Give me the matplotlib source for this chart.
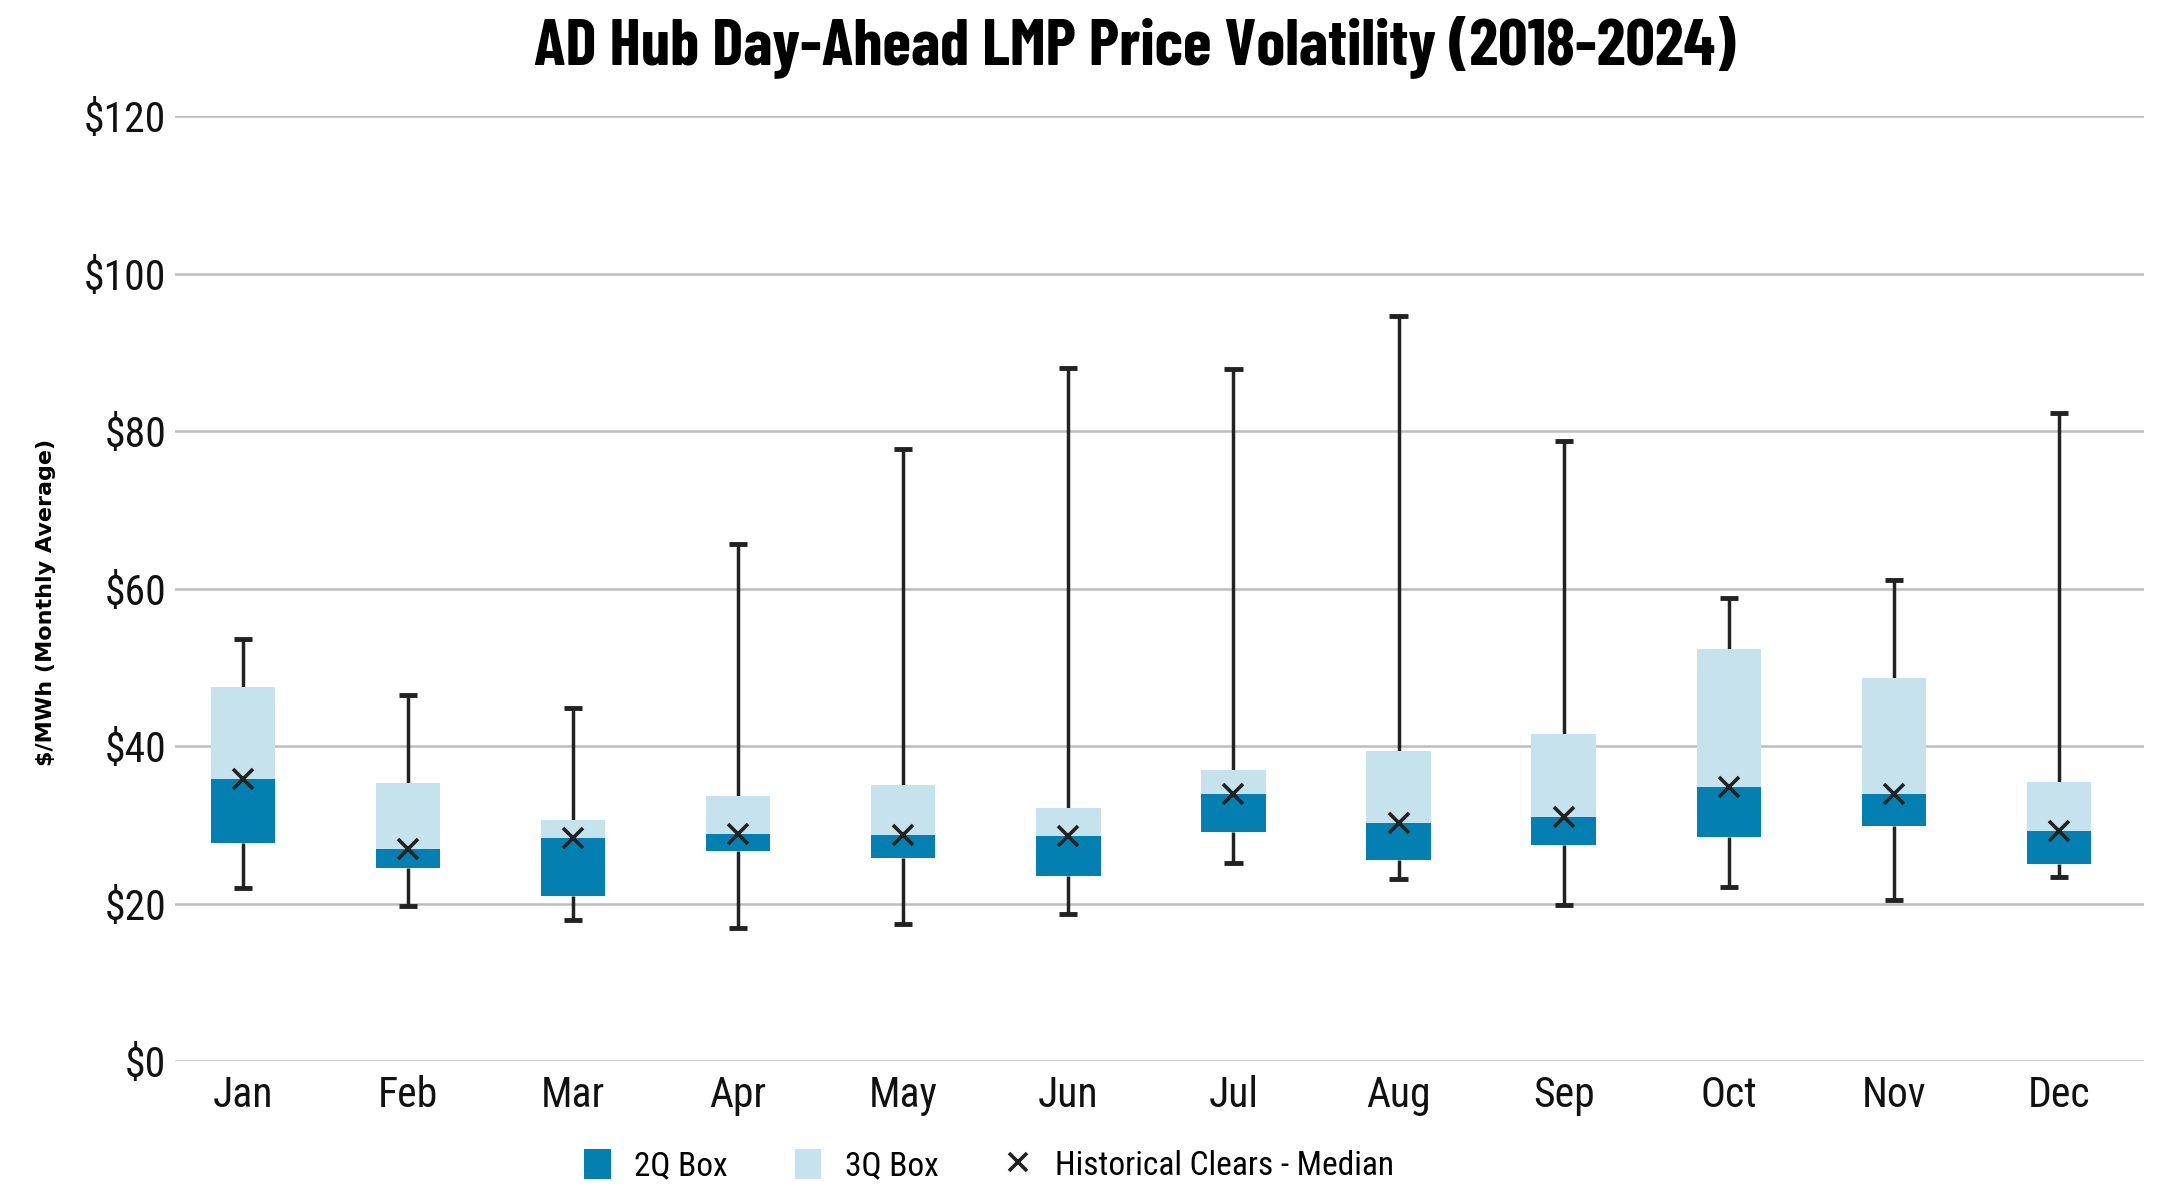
import matplotlib
matplotlib.use("Agg")
import matplotlib.pyplot as plt
from matplotlib.patches import Patch
from matplotlib.lines import Line2D
import numpy as np

months = ["Jan", "Feb", "Mar", "Apr", "May", "Jun", "Jul", "Aug", "Sep", "Oct", "Nov", "Dec"]
whisker_low = [22.0, 19.7, 17.9, 16.95, 17.5, 18.75, 25.2, 23.2, 19.8, 22.1, 20.5, 23.4]
q1 = [27.7, 24.5, 20.95, 26.75, 25.8, 23.5, 29.1, 25.6, 27.5, 28.45, 29.9, 25.0]
median = [35.8, 27.0, 28.4, 28.9, 28.8, 28.6, 33.9, 30.3, 31.0, 34.8, 34.0, 29.3]
q3 = [47.55, 35.4, 30.6, 33.7, 35.1, 32.2, 37.0, 39.4, 41.6, 52.4, 48.7, 35.5]
whisker_high = [53.6, 46.5, 44.9, 65.7, 77.7, 88.0, 87.9, 94.6, 78.8, 58.85, 61.05, 82.3]
yticks = [0, 20, 40, 60, 80, 100, 120]
ytick_labels = ["$0", "$20", "$40", "$60", "$80", "$100", "$120"]

DARK = "#0380B1"
LIGHT = "#C6E2EC"
GRID = "#BDBDBD"
INK = "#222222"
NARROW = ["Roboto Condensed", "DejaVu Sans"]
TITLEF = ["Barlow Condensed", "DejaVu Sans"]
LABELF = ["DejaVu Sans"]

fig = plt.figure(figsize=(21.74, 12.04), dpi=100)
ax = fig.add_axes([0.0803, 0.1184, 0.9862 - 0.0803, 0.9037 - 0.1184])

x = np.arange(len(months))
w = 0.39
q1a = np.array(q1); meda = np.array(median); q3a = np.array(q3)

# whiskers
ax.vlines(x, whisker_low, q1, color=INK, lw=2.5, zorder=2)
ax.vlines(x, q3, whisker_high, color=INK, lw=2.5, zorder=2)
ax.hlines(whisker_low, x - 0.055, x + 0.055, color=INK, lw=3.5, zorder=2)
ax.hlines(whisker_high, x - 0.055, x + 0.055, color=INK, lw=3.5, zorder=2)

# boxes
ax.bar(x, meda - q1a, bottom=q1a, width=w, color=DARK, zorder=3)
ax.bar(x, q3a - meda, bottom=meda, width=w, color=LIGHT, zorder=3)
ax.plot(x, median, linestyle="none", marker="x", color=INK, markersize=14, mew=2.6, zorder=4)

ax.set_xlim(-0.413, 11.515)
ax.set_ylim(0, 120)
ax.set_yticks(yticks)
ax.set_yticklabels(ytick_labels, fontsize=30, family=NARROW, color="#111111")
ax.set_xticks(x)
ax.set_xticklabels(months, fontsize=30, family=NARROW, color="#111111")
ax.tick_params(axis="both", length=0)
ax.tick_params(axis="y", pad=6)
ax.tick_params(axis="x", pad=10)
ax.yaxis.grid(True, color=GRID, lw=1.8)
ax.set_axisbelow(True)
for s in ax.spines.values():
    s.set_visible(False)

fig.text(0.021, 0.5, "$/MWh (Monthly Average)", rotation=90, ha="center", va="center",
         fontsize=16, fontweight="bold", family=LABELF, color="#000000")

fig.text(0.522, 0.961, "AD Hub Day-Ahead LMP Price Volatility (2018-2024)", ha="center", va="center",
         fontsize=47, fontweight="bold", family=TITLEF)

handles = [Patch(facecolor=DARK, edgecolor="none", label="2Q Box"),
           Patch(facecolor=LIGHT, edgecolor="none", label="3Q Box"),
           Line2D([], [], linestyle="none", marker="x", color=INK, markersize=13, mew=2.6,
                  label="Historical Clears - Median")]
fig.legend(handles=handles, loc="center", bbox_to_anchor=(0.455, 0.032), ncol=3, frameon=False,
           prop={"family": NARROW, "size": 24}, handlelength=0.8, handleheight=1.0,
           handletextpad=0.7, columnspacing=2.0)

fig.savefig("out.png", dpi=100)
